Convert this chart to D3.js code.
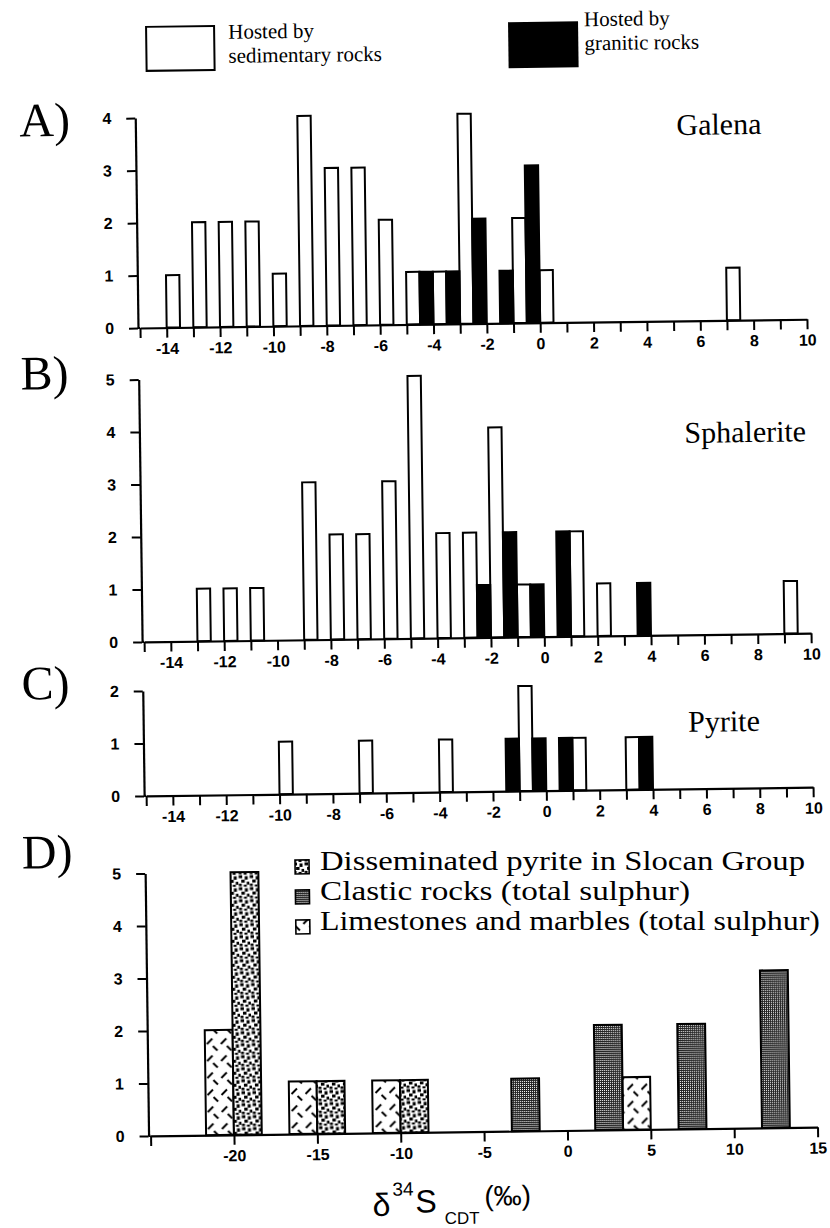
<!DOCTYPE html>
<html>
<head>
<meta charset="utf-8">
<script src="https://cdn.jsdelivr.net/npm/d3@7"></script>
<style>
  body { margin: 0; background: #fff; }
  svg { display: block; }
</style>
</head>
<body>
<svg id="chart" width="830" height="1228"></svg>
<script>
// ---- Data: histogram bins (left edge in per mil) and counts ----
// A) Galena
const galenaSedX  = [-14, -13, -12, -11, -10, -9, -8, -7, -6, -5, -4, -3, -1, 0, 7];
const galenaSedN  = [1, 2, 2, 2, 1, 4, 3, 3, 2, 1, 1, 4, 2, 1, 1];
const galenaGranX = [-4.5, -3.5, -2.5, -1.5, -0.5];
const galenaGranN = [1, 1, 2, 1, 3];
// B) Sphalerite
const sphalSedX  = [-13, -12, -11, -9, -8, -7, -6, -5, -4, -3, -2, -1, 1, 2, 9];
const sphalSedN  = [1, 1, 1, 3, 2, 2, 3, 5, 2, 2, 4, 1, 2, 1, 1];
const sphalGranX = [-2.5, -1.5, -0.5, 0.5, 3.5];
const sphalGranN = [1, 2, 1, 2, 1];
// C) Pyrite
const pyriteSedX  = [-10, -7, -4, -1, 1, 3];
const pyriteSedN  = [1, 1, 1, 2, 1, 1];
const pyriteGranX = [-1.5, -0.5, 0.5, 3.5];
const pyriteGranN = [1, 1, 1, 1];
// D) Host rocks
const dissemX   = [-20, -15, -10];
const dissemN   = [5, 1, 1];
const clasticX  = [-3.33, 1.67, 6.67, 11.67];
const clasticN  = [1, 2, 2, 3];
const limeX     = [-21.67, -16.67, -11.67, 3.33];
const limeN     = [2, 1, 1, 1];

// Axis ticks and labels
const ticksABC  = [-15,-14,-13,-12,-11,-10,-9,-8,-7,-6,-5,-4,-3,-2,-1,0,1,2,3,4,5,6,7,8,9,10];
const labelsABC = [-14,-12,-10,-8,-6,-4,-2,0,2,4,6,8,10];
const ticksD    = [-25,-20,-15,-10,-5,0,5,10,15];
const labelsD   = [-20,-15,-10,-5,0,5,10,15];

const svg = d3.select("#chart");
const defs = svg.append("defs");

// ---- Fill patterns for panel D ----
const pDis = defs.append("pattern").attr("id","dissem").attr("patternUnits","userSpaceOnUse")
  .attr("width",11).attr("height",12);
pDis.append("rect").attr("width",11).attr("height",12).attr("fill","#fff");
[[0.5,0.5,3.5,3],[6.5,1.5,3,3.5],[3,5,3.5,3],[8.5,7,2.5,3],[0.5,9,3,2.5],[5.5,10,3,2]].forEach(r =>
  pDis.append("rect").attr("x",r[0]).attr("y",r[1]).attr("width",r[2]).attr("height",r[3]).attr("fill","#000"));

const pCla = defs.append("pattern").attr("id","clastic").attr("patternUnits","userSpaceOnUse")
  .attr("width",2).attr("height",2);
pCla.append("rect").attr("width",2).attr("height",2).attr("fill","#222");
pCla.append("rect").attr("width",1).attr("height",1).attr("fill","#fff");

const pLim = defs.append("pattern").attr("id","lime").attr("patternUnits","userSpaceOnUse")
  .attr("width",14).attr("height",17);
pLim.append("rect").attr("width",14).attr("height",17).attr("fill","#fff");
pLim.append("line").attr("x1",1.5).attr("y1",8).attr("x2",7).attr("y2",2.5).attr("stroke","#000").attr("stroke-width",2);
pLim.append("line").attr("x1",7.5).attr("y1",10).attr("x2",12).attr("y2",14.5).attr("stroke","#000").attr("stroke-width",2);

// Whole figure, with the slight tilt of the printed page
const root = svg.append("g").attr("transform","rotate(-0.75,139,328)");

const X0 = 140, X1 = 807, UNIT = 52.5, YAXIS = 138;
const tickFont = "'Liberation Sans', Arial, sans-serif";
const serif = "'Liberation Serif', 'Times New Roman', serif";

function drawAxes(g, x, y, ticks, labels, yTicks, baseline) {
  const xa = d3.axisBottom(x).tickValues(ticks).tickSize(10).tickSizeOuter(0).tickPadding(5)
    .tickFormat(d => labels.includes(d) ? String(d) : "");
  const gx = g.append("g").attr("transform", `translate(0,${baseline})`).call(xa);
  const ya = d3.axisLeft(y).tickValues(yTicks).tickSize(9).tickSizeOuter(0).tickPadding(15)
    .tickFormat(d => String(d));
  const gy = g.append("g").attr("transform", `translate(${YAXIS},0)`).call(ya);
  [gx, gy].forEach(a => {
    a.select(".domain").attr("stroke","#000").attr("stroke-width",2.2);
    a.selectAll(".tick line").attr("stroke","#000").attr("stroke-width",2);
    a.selectAll(".tick text").attr("fill","#000").attr("font-family",tickFont)
      .attr("font-size",16).attr("font-weight","bold");
  });
  gx.selectAll(".tick text").attr("dy","0.71em");
  // x-axis line continues to the y-axis
  g.append("line").attr("x1",YAXIS).attr("x2",x.range()[0]).attr("y1",baseline).attr("y2",baseline)
    .attr("stroke","#000").attr("stroke-width",2.2);
}

function bars(g, x, y, xs, ns, w, fill) {
  g.selectAll(null).data(xs.map((v,i) => ({x:v, n:ns[i]}))).enter().append("rect")
    .attr("x", d => x(d.x)).attr("width", d => x(d.x + w) - x(d.x))
    .attr("y", d => y(d.n)).attr("height", d => y(0) - y(d.n))
    .attr("fill", fill).attr("stroke","#000").attr("stroke-width",2);
}

function mineralPanel(opts) {
  const g = root.append("g");
  const x = d3.scaleLinear().domain([-15, 10]).range([X0, X1]);
  const y = d3.scaleLinear().domain([0, opts.yMax]).range([opts.baseline, opts.baseline - UNIT*opts.yMax]);
  const yTicks = d3.range(0, opts.yMax + 1);
  bars(g, x, y, opts.sedX, opts.sedN, 0.5, "#fff");
  bars(g, x, y, opts.granX, opts.granN, 0.5, "#000");
  drawAxes(g, x, y, ticksABC, labelsABC, yTicks, opts.baseline);
  g.append("text").attr("x", opts.titleX).attr("y", opts.titleY).text(opts.title)
    .attr("font-family", serif).attr("font-size", 30);
  g.append("text").attr("x", opts.letterX).attr("y", opts.letterY).text(opts.letter)
    .attr("font-family", serif).attr("font-size", 48);
}

mineralPanel({letter:"A)", letterX:22, letterY:135, title:"Galena", titleX:679, titleY:142,
  baseline:328, yMax:4, sedX:galenaSedX, sedN:galenaSedN, granX:galenaGranX, granN:galenaGranN});
mineralPanel({letter:"B)", letterX:20, letterY:388, title:"Sphalerite", titleX:683, titleY:450,
  baseline:642, yMax:5, sedX:sphalSedX, sedN:sphalSedN, granX:sphalGranX, granN:sphalGranN});
mineralPanel({letter:"C)", letterX:17, letterY:698, title:"Pyrite", titleX:683, titleY:739,
  baseline:796, yMax:2, sedX:pyriteSedX, sedN:pyriteSedN, granX:pyriteGranX, granN:pyriteGranN});

// ---- Panel D ----
{
  const g = root.append("g");
  const base = 1136;
  const x = d3.scaleLinear().domain([-25, 15]).range([X0, X1]);
  const y = d3.scaleLinear().domain([0, 5]).range([base, base - UNIT*5]);
  const w = 1.67;
  bars(g, x, y, limeX, limeN, w, "url(#lime)");
  bars(g, x, y, dissemX, dissemN, w, "url(#dissem)");
  bars(g, x, y, clasticX, clasticN, w, "url(#clastic)");
  drawAxes(g, x, y, ticksD, labelsD, [0,1,2,3,4,5], base);
  g.append("text").attr("x", 15).attr("y", 867).text("D)").attr("font-family", serif).attr("font-size", 48);

  const legendD = [
    {label:"Disseminated pyrite in Slocan Group", fill:"url(#dissem)", len:485},
    {label:"Clastic rocks (total sulphur)", fill:"url(#clastic)", len:370},
    {label:"Limestones and marbles (total sulphur)", fill:"url(#lime)", len:500}
  ];
  // swatches follow the page tilt; the long legend lines are set level
  legendD.forEach((d, i) => {
    const by = 875 + i*30;
    g.append("rect").attr("x", 288).attr("y", by - 13).attr("width", 14).attr("height", 14)
      .attr("fill", d.fill).attr("stroke", "#000").attr("stroke-width", 1.6);
    svg.append("text").attr("x", 320).attr("y", by - 5).text(d.label)
      .attr("font-family", serif).attr("font-size", 27)
      .attr("textLength", d.len).attr("lengthAdjust", "spacingAndGlyphs");
  });

  // Axis title: δ34S CDT (‰)
  const sans = "'Liberation Sans', Arial, sans-serif";
  g.append("text").attr("x", 361).attr("y", 1219).text("δ").attr("font-family", sans).attr("font-size", 32);
  g.append("text").attr("x", 381).attr("y", 1199).text("34").attr("font-family", sans).attr("font-size", 19);
  g.append("text").attr("x", 404).attr("y", 1216).text("S").attr("font-family", sans).attr("font-size", 32);
  g.append("text").attr("x", 433).attr("y", 1228).text("CDT").attr("font-family", sans).attr("font-size", 17);
  g.append("text").attr("x", 473).attr("y", 1210).text("(‰)").attr("font-family", sans).attr("font-size", 28);
}

// ---- Top legend ----
{
  const g = root.append("g");
  g.append("rect").attr("x", 150).attr("y", 27).attr("width", 68).attr("height", 44)
    .attr("fill", "#fff").attr("stroke", "#000").attr("stroke-width", 2);
  g.append("text").attr("x", 232).attr("y", 40).text("Hosted by").attr("font-family", serif).attr("font-size", 21);
  g.append("text").attr("x", 232).attr("y", 64).text("sedimentary rocks").attr("font-family", serif).attr("font-size", 21);
  g.append("rect").attr("x", 512).attr("y", 27).attr("width", 70).attr("height", 46).attr("fill", "#000");
  g.append("text").attr("x", 588).attr("y", 32).text("Hosted by").attr("font-family", serif).attr("font-size", 21);
  g.append("text").attr("x", 588).attr("y", 56).text("granitic rocks").attr("font-family", serif).attr("font-size", 21);
}
</script>
</body>
</html>
